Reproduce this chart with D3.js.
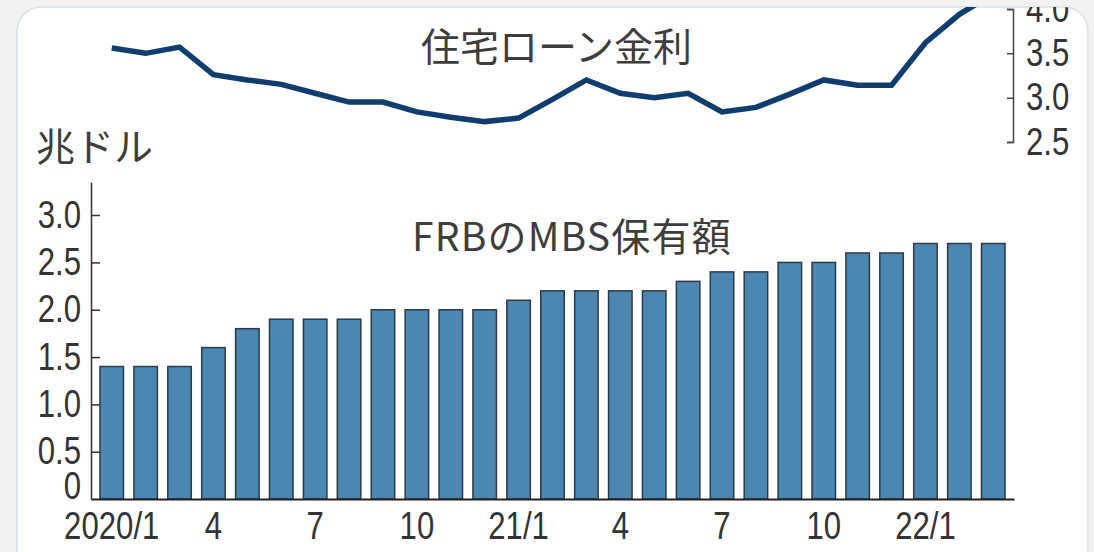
<!DOCTYPE html>
<html>
<head>
<meta charset="utf-8">
<script src="https://cdn.jsdelivr.net/npm/d3@7"></script>
<style>
  html, body { margin: 0; padding: 0; background: #f2f2f2; }
  svg { display: block; }
  .num text { font-family: "Liberation Sans", Arial, sans-serif; font-size: 38px; fill: #333; }
  .ja { font-family: "Noto Sans CJK JP", "Noto Sans", sans-serif; font-size: 39px; fill: #3d3d3d; }
</style>
</head>
<body>
<svg width="1094" height="552"></svg>
<script>
// months, 2020/1 .. 2022/3
var months = ["2020/1","2020/2","2020/3","2020/4","2020/5","2020/6","2020/7","2020/8","2020/9","2020/10","2020/11","2020/12",
              "2021/1","2021/2","2021/3","2021/4","2021/5","2021/6","2021/7","2021/8","2021/9","2021/10","2021/11","2021/12",
              "2022/1","2022/2","2022/3"];

// FRB MBS holdings (trillion $)
var mbsHoldings = [1.4,1.4,1.4,1.6,1.8,1.9,1.9,1.9,2.0,2.0,2.0,2.0,
                   2.1,2.2,2.2,2.2,2.2,2.3,2.4,2.4,2.5,2.5,2.6,2.6,
                   2.7,2.7,2.7];

// mortgage rate (%)
var mortgageRate = [3.56,3.50,3.57,3.26,3.20,3.15,3.05,2.95,2.95,2.84,2.78,2.73,
                    2.77,2.98,3.20,3.05,3.00,3.05,2.84,2.89,3.04,3.20,3.14,3.14,
                    3.62,3.94,4.17];

var xTickLabels = {"2020/1":"2020/1","2020/4":"4","2020/7":"7","2020/10":"10",
                   "2021/1":"21/1","2021/4":"4","2021/7":"7","2021/10":"10","2022/1":"22/1"};
var barTicks = [0,0.5,1.0,1.5,2.0,2.5,3.0];
var rateTicks = [2.5,3.0,3.5,4.0];

var narrow = 0.82;  // condensed look for the numbers

function condense(sel) {
  sel.selectAll("text")
    .attr("font-family", null)
    .attr("font-size", null)
    .attr("x", function() { return (+d3.select(this).attr("x") || 0) / narrow; })
    .attr("transform", "scale(" + narrow + ",1)");
}

var svg = d3.select("svg");

// card
var defs = svg.append("defs");
defs.append("clipPath").attr("id","card")
  .append("rect").attr("x",17).attr("y",7).attr("width",1071).attr("height",600).attr("rx",24);

svg.append("rect")
  .attr("x",17).attr("y",7).attr("width",1071).attr("height",600).attr("rx",24)
  .attr("fill","#fff").attr("stroke","#d6e1e7").attr("stroke-width",1.5);

var g = svg.append("g").attr("clip-path","url(#card)");

var x = d3.scaleBand()
  .domain(months)
  .range([91, 1014])
  .paddingInner(0.307)
  .paddingOuter(0.265);

// BARS
var y = d3.scaleLinear().domain([0, 3.35]).range([499, 182]);

g.append("g")
  .selectAll("rect")
  .data(mbsHoldings)
  .enter().append("rect")
    .attr("x", (d,i) => x(months[i]))
    .attr("y", d => y(d))
    .attr("width", x.bandwidth())
    .attr("height", d => y(0) - y(d))
    .attr("fill", "#4c87b2")
    .attr("stroke", "#2b3a46")
    .attr("stroke-width", 1.5);

var yAxis = d3.axisLeft(y)
  .tickValues(barTicks)
  .tickSizeInner(-9)
  .tickSizeOuter(0)
  .tickPadding(10)
  .tickFormat(d => d === 0 ? "0" : d.toFixed(1));

var yAxisG = g.append("g")
  .attr("class","num")
  .attr("transform","translate(91,0)")
  .call(yAxis);
yAxisG.selectAll("path, line").attr("stroke","#333").attr("stroke-width",1.5);
condense(yAxisG);
yAxisG.selectAll(".tick").filter(d => d === 0).select("text").attr("dy","-0.02em");
yAxisG.selectAll(".tick").filter(d => d === 0).select("line").remove();

var xAxis = d3.axisBottom(x)
  .tickValues(Object.keys(xTickLabels))
  .tickSize(0)
  .tickPadding(13)
  .tickFormat(d => xTickLabels[d]);

var xAxisG = g.append("g")
  .attr("class","num")
  .attr("transform","translate(0,499)")
  .call(xAxis);
xAxisG.select(".domain").attr("stroke","#222").attr("stroke-width",2);
condense(xAxisG);

// LINE
var yR = d3.scaleLinear().domain([2.5, 4.0]).range([142, 9]);

var line = d3.line()
  .x((d,i) => x(months[i]) + x.bandwidth()/2)
  .y(d => yR(d));

g.append("path")
  .datum(mortgageRate)
  .attr("d", line)
  .attr("fill","none")
  .attr("stroke","#0f3d6d")
  .attr("stroke-width",5.5);

var rAxis = d3.axisRight(yR)
  .tickValues(rateTicks)
  .tickSizeInner(-6)
  .tickSizeOuter(-6)
  .tickPadding(13)
  .tickFormat(d => d.toFixed(1));

var rAxisG = g.append("g")
  .attr("class","num")
  .attr("transform","translate(1013,0)")
  .call(rAxis);
rAxisG.selectAll("path, line").attr("stroke","#444").attr("stroke-width",1.5);
condense(rAxisG);

// TITLES
g.append("text").attr("class","ja").attr("x",421).attr("y",61).text("住宅ローン金利");
g.append("text").attr("class","ja").attr("x",36).attr("y",161).text("兆ドル");
g.append("text").attr("class","ja").attr("x",412).attr("y",251)
  .attr("letter-spacing","1.2px").text("FRBのMBS保有額");
</script>
</body>
</html>
